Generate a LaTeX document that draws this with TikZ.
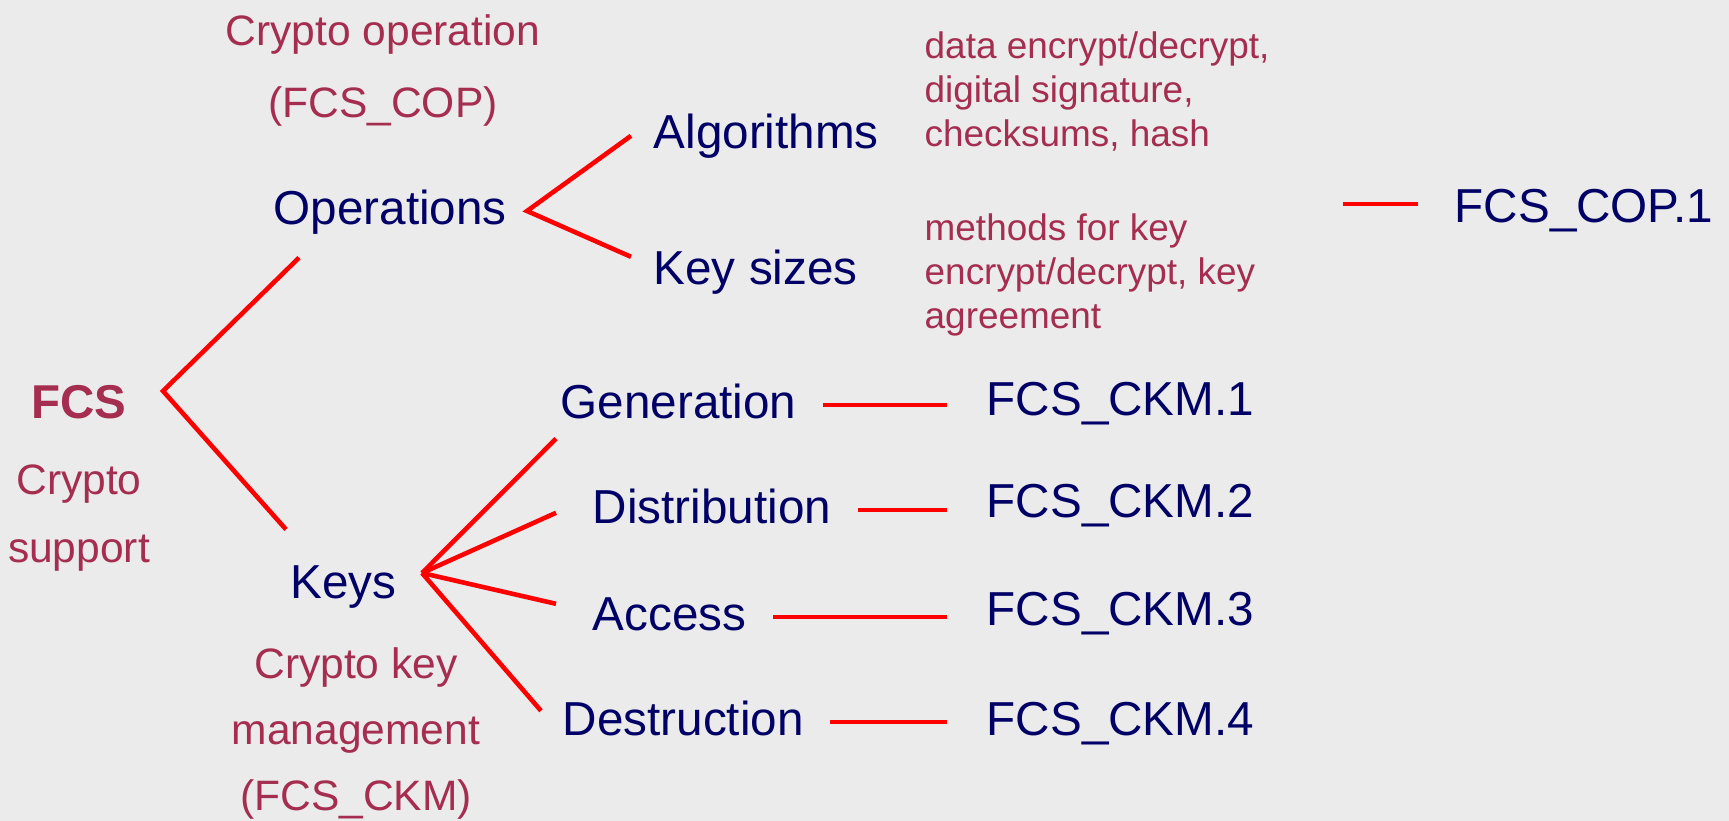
\documentclass[tikz,border=0pt]{standalone}
\usepackage{fontspec}
\setmainfont{Liberation Sans}
\definecolor{CCnavy}{RGB}{0,0,102}
\definecolor{CCmaroon}{RGB}{165,45,80}
\definecolor{CCred}{RGB}{255,0,0}
\definecolor{Slide}{RGB}{235,235,235}
\usetikzlibrary{calc,positioning}

\begin{document}
\begin{tikzpicture}[x=0.01cm,y=-0.01cm,
  term/.style={inner sep=0pt,anchor=base west,text=CCnavy,font=\fontsize{13.55}{16}\selectfont,text height=10.2pt,text depth=2.7pt},
  note/.style={inner sep=0pt,anchor=north,align=center,text=CCmaroon},
  detail/.style={inner sep=0pt,anchor=north west,align=left,text=CCmaroon,font=\fontsize{10.5}{12.5}\selectfont},
  link/.style={draw=CCred,line width=1.3pt}]
  \fill[Slide] (0,0) rectangle (1729,821);
  \useasboundingbox (0,0) rectangle (1729,821);

  % root
  \node[inner sep=0pt,anchor=base,text=CCmaroon,font=\bfseries\fontsize{13.5}{16}\selectfont] (fcs) at (79,418) {FCS};
  \node[note,font=\fontsize{12.1}{19.3}\selectfont] (fcsnote) at (79,464) {Crypto\\support};

  % crypto operation branch
  \node[note,font=\fontsize{12.1}{20.5}\selectfont] (copnote) at (383,14) {Crypto operation\\(FCS\_COP)};
  \node[term] (ops) at (273,224) {Operations};
  \node[term] (alg) at (653,148) {Algorithms};
  \node[term] (ksz) at (653,284) {Key sizes};
  \node[detail] (algnote) at (924,31) {data encrypt/decrypt,\\digital signature,\\checksums, hash};
  \node[detail] (ksznote) at (924,213) {methods for key\\encrypt/decrypt, key\\agreement};
  \node[term] (cop1) at (1454,222) {FCS\_COP.1};

  % key management branch
  \node[term] (keys) at (290,598) {Keys};
  \node[note,font=\fontsize{12.1}{18.8}\selectfont] (ckmnote) at (356,647) {Crypto key\\management\\(FCS\_CKM)};
  \node[term] (gen) at (560,418) {Generation};
  \node[term] (dist) at (592,523) {Distribution};
  \node[term] (acc) at (592,630) {Access};
  \node[term] (dest) at (562,735) {Destruction};
  \node[term] (ckm1) at (986,415) {FCS\_CKM.1};
  \node[term] (ckm2) at (986,517) {FCS\_CKM.2};
  \node[term] (ckm3) at (986,625) {FCS\_CKM.3};
  \node[term] (ckm4) at (986,735) {FCS\_CKM.4};

  % forks
  \coordinate (fcsfork) at (163,391);
  \coordinate (opsfork) at (527,211);
  \coordinate (keysfork) at (422,573);
  \coordinate (copstub) at (1343,204);

  \draw[link] ($(ops.south west)+(26,23.5)$) -- (fcsfork) -- ($(keys.north west)+(-4,-32)$);
  \draw[link] ($(alg.west)+(-22,1)$) -- (opsfork) -- ($(ksz.west)+(-22,-14)$);
  \draw[link] (keysfork) -- ($(gen.south west)+(-4,10.5)$);
  \draw[link] (keysfork) -- ($(dist.west)+(-36,3)$);
  \draw[link] (keysfork) -- ($(acc.west)+(-36,-13)$);
  \draw[link] (keysfork) -- ($(dest.west)+(-21,-11)$);

  \draw[link,shorten <=0.26cm,shorten >=0.39cm] (gen.east) -- (gen.east -| ckm1.west);
  \draw[link,shorten <=0.26cm,shorten >=0.39cm] (dist.east) -- (dist.east -| ckm2.west);
  \draw[link,shorten <=0.26cm,shorten >=0.39cm] (acc.east) -- (acc.east -| ckm3.west);
  \draw[link,shorten <=0.26cm,shorten >=0.39cm] (dest.east) -- (dest.east -| ckm4.west);
  \draw[link,shorten >=0.36cm] (copstub) -- (copstub -| cop1.west);
\end{tikzpicture}
\end{document}
